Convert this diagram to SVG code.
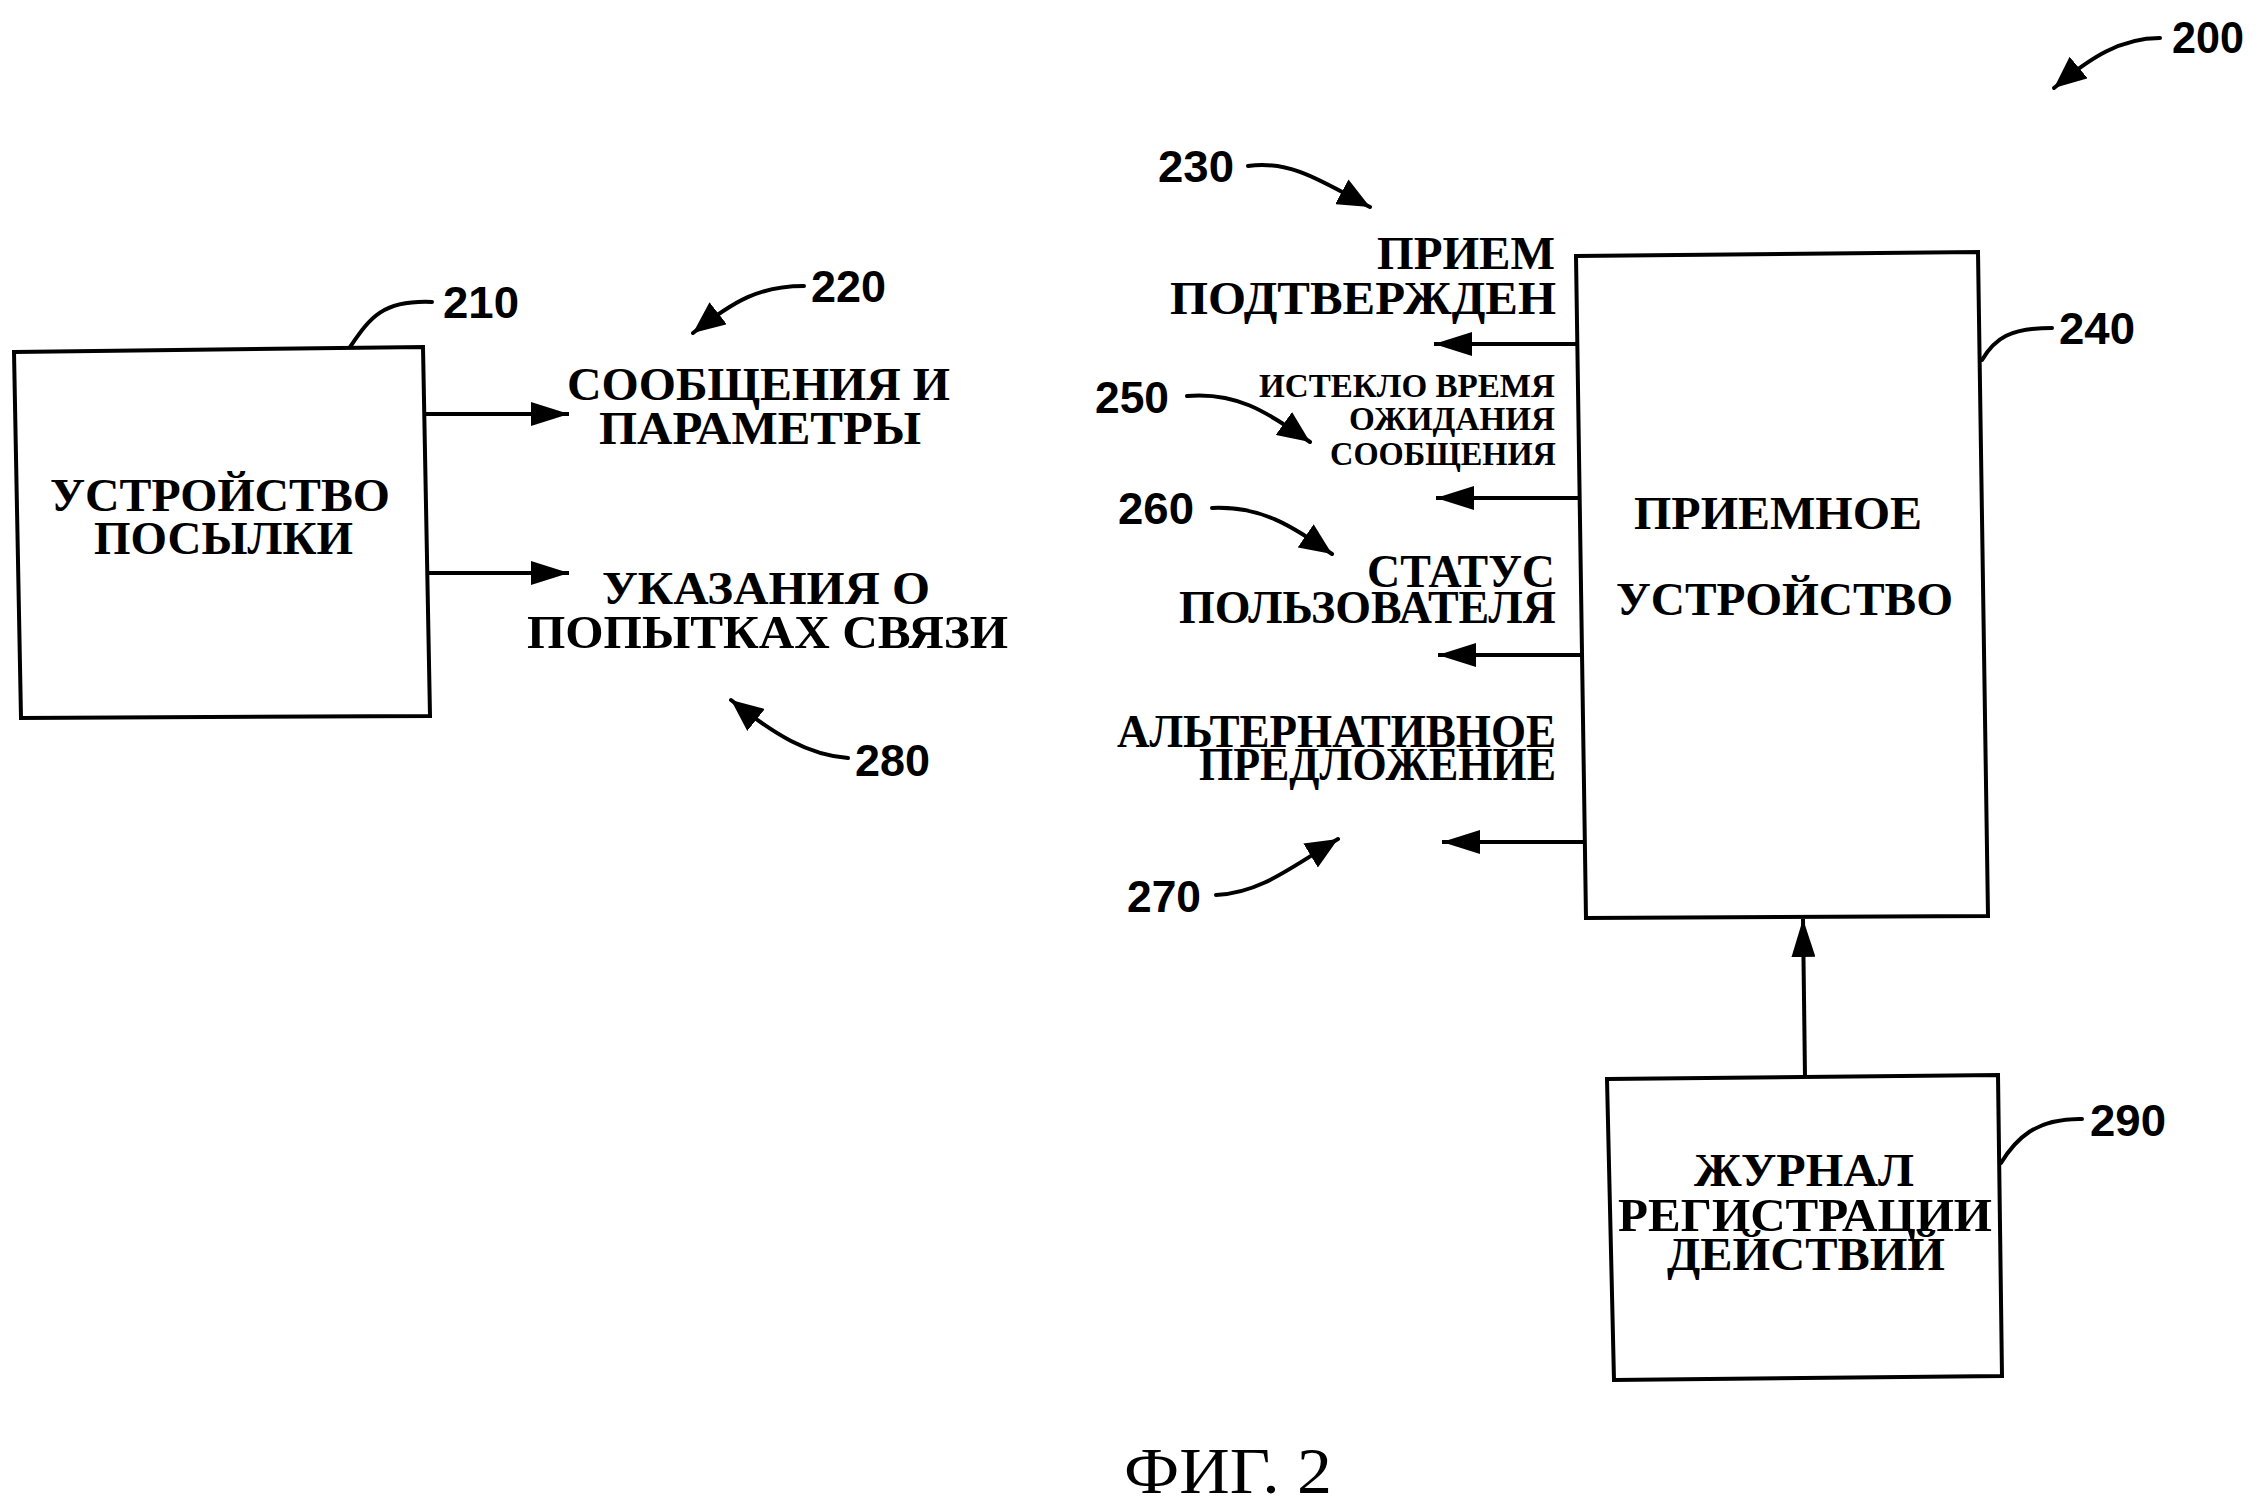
<svg xmlns="http://www.w3.org/2000/svg" width="2266" height="1509" viewBox="0 0 2266 1509">
<style>
.box{fill:none;stroke:#000;stroke-width:4;stroke-linejoin:miter}
.ln{fill:none;stroke:#000;stroke-width:4}
.ld{fill:none;stroke:#000;stroke-width:4;stroke-linecap:round}
.t{font-family:"Liberation Serif","Times New Roman",serif;font-weight:bold;font-size:47px;fill:#000}
.s{font-family:"Liberation Serif","Times New Roman",serif;font-weight:bold;font-size:34px;fill:#000}
.n{font-family:"Liberation Sans",Arial,sans-serif;font-weight:bold;font-size:44px;fill:#000}
.f{font-family:"Liberation Serif","Times New Roman",serif;font-size:66px;fill:#000}
</style>
<defs>
<marker id="ah" viewBox="0 0 10 10" refX="10" refY="5" markerUnits="userSpaceOnUse" markerWidth="38" markerHeight="24" orient="auto" preserveAspectRatio="none"><path d="M0,0 L10,5 L0,10 z" fill="#000"/></marker>
<marker id="lh" viewBox="0 0 10 10" refX="10" refY="5" markerUnits="userSpaceOnUse" markerWidth="32" markerHeight="28" orient="auto" preserveAspectRatio="none"><path d="M0,0 L10,5 L0,10 z" fill="#000"/></marker>
</defs>
<rect width="2266" height="1509" fill="#fff"/>

<g id="n210">
<path class="box" d="M14,352 L423,347 L430,716 L21,718 Z"/>
<text class="t" x="50" y="511" textLength="340" lengthAdjust="spacingAndGlyphs">УСТРОЙСТВО</text>
<text class="t" x="94" y="554" textLength="259" lengthAdjust="spacingAndGlyphs">ПОСЫЛКИ</text>
</g>

<g id="n220">
<text class="t" x="567" y="400" textLength="383" lengthAdjust="spacingAndGlyphs">СООБЩЕНИЯ И</text>
<text class="t" x="599" y="444" textLength="322" lengthAdjust="spacingAndGlyphs">ПАРАМЕТРЫ</text>
</g>

<g id="n280">
<text class="t" x="602" y="604" textLength="328" lengthAdjust="spacingAndGlyphs">УКАЗАНИЯ О</text>
<text class="t" x="527" y="648" textLength="481" lengthAdjust="spacingAndGlyphs">ПОПЫТКАХ СВЯЗИ</text>
</g>

<g id="n230">
<text class="t" x="1377" y="269" textLength="178" lengthAdjust="spacingAndGlyphs">ПРИЕМ</text>
<text class="t" x="1170" y="314" textLength="386" lengthAdjust="spacingAndGlyphs">ПОДТВЕРЖДЕН</text>
</g>

<g id="n250">
<text class="s" x="1259" y="397" textLength="296" lengthAdjust="spacingAndGlyphs">ИСТЕКЛО ВРЕМЯ</text>
<text class="s" x="1349" y="430" textLength="206" lengthAdjust="spacingAndGlyphs">ОЖИДАНИЯ</text>
<text class="s" x="1330" y="465" textLength="226" lengthAdjust="spacingAndGlyphs">СООБЩЕНИЯ</text>
</g>

<g id="n260">
<text class="t" x="1367" y="587" textLength="188" lengthAdjust="spacingAndGlyphs">СТАТУС</text>
<text class="t" x="1179" y="623" textLength="377" lengthAdjust="spacingAndGlyphs">ПОЛЬЗОВАТЕЛЯ</text>
</g>

<g id="n270">
<text class="t" x="1117" y="747" textLength="439" lengthAdjust="spacingAndGlyphs">АЛЬТЕРНАТИВНОЕ</text>
<text class="t" x="1199" y="780" textLength="357" lengthAdjust="spacingAndGlyphs">ПРЕДЛОЖЕНИЕ</text>
</g>

<g id="n240">
<path class="box" d="M1576,256 L1978,252 L1988,916 L1586,918 Z"/>
<text class="t" x="1634" y="529" textLength="288" lengthAdjust="spacingAndGlyphs">ПРИЕМНОЕ</text>
<text class="t" x="1616" y="615" textLength="337" lengthAdjust="spacingAndGlyphs">УСТРОЙСТВО</text>
</g>

<g id="n290">
<path class="box" d="M1607,1079 L1998,1075 L2002,1376 L1614,1380 Z"/>
<text class="t" x="1694" y="1186" textLength="220" lengthAdjust="spacingAndGlyphs">ЖУРНАЛ</text>
<text class="t" x="1618" y="1231" textLength="374" lengthAdjust="spacingAndGlyphs">РЕГИСТРАЦИИ</text>
<text class="t" x="1667" y="1270" textLength="278" lengthAdjust="spacingAndGlyphs">ДЕЙСТВИЙ</text>
</g>

<g id="connectors">
<path class="ln" d="M424,414 L569,414" marker-end="url(#ah)"/>
<path class="ln" d="M426,573 L569,573" marker-end="url(#ah)"/>
<path class="ln" d="M1577,344 L1434,344" marker-end="url(#ah)"/>
<path class="ln" d="M1579,498 L1436,498" marker-end="url(#ah)"/>
<path class="ln" d="M1582,655 L1438,655" marker-end="url(#ah)"/>
<path class="ln" d="M1585,842 L1442,842" marker-end="url(#ah)"/>
<path class="ln" d="M1805,1077 L1803,919" marker-end="url(#ah)"/>
</g>

<g id="leaders">
<path class="ld" d="M2160,38 C2120,38 2090,58 2054,88" marker-end="url(#lh)"/>
<path class="ld" d="M1248,166 C1290,160 1320,180 1370,207" marker-end="url(#lh)"/>
<path class="ld" d="M804,286 C760,286 735,300 693,333" marker-end="url(#lh)"/>
<path class="ld" d="M350,347 C370,318 382,300 432,302"/>
<path class="ld" d="M1982,360 C1995,338 2010,328 2052,328"/>
<path class="ld" d="M1187,396 C1235,392 1265,410 1310,442" marker-end="url(#lh)"/>
<path class="ld" d="M1212,508 C1262,506 1290,525 1332,554" marker-end="url(#lh)"/>
<path class="ld" d="M1216,895 C1260,893 1290,868 1338,839" marker-end="url(#lh)"/>
<path class="ld" d="M848,758 C808,755 775,735 731,700" marker-end="url(#lh)"/>
<path class="ld" d="M2001,1163 C2015,1140 2035,1118 2082,1119"/>
</g>

<g id="labels">
<text class="n" x="2172" y="53" textLength="72" lengthAdjust="spacingAndGlyphs">200</text>
<text class="n" x="1158" y="182" textLength="76" lengthAdjust="spacingAndGlyphs">230</text>
<text class="n" x="811" y="302" textLength="75" lengthAdjust="spacingAndGlyphs">220</text>
<text class="n" x="443" y="318" textLength="76" lengthAdjust="spacingAndGlyphs">210</text>
<text class="n" x="2059" y="344" textLength="76" lengthAdjust="spacingAndGlyphs">240</text>
<text class="n" x="1095" y="413" textLength="74" lengthAdjust="spacingAndGlyphs">250</text>
<text class="n" x="1118" y="524" textLength="76" lengthAdjust="spacingAndGlyphs">260</text>
<text class="n" x="855" y="776" textLength="75" lengthAdjust="spacingAndGlyphs">280</text>
<text class="n" x="1127" y="912" textLength="74" lengthAdjust="spacingAndGlyphs">270</text>
<text class="n" x="2090" y="1136" textLength="76" lengthAdjust="spacingAndGlyphs">290</text>
</g>

<text class="f" x="1124" y="1493" textLength="208" lengthAdjust="spacingAndGlyphs">ФИГ. 2</text>
</svg>
